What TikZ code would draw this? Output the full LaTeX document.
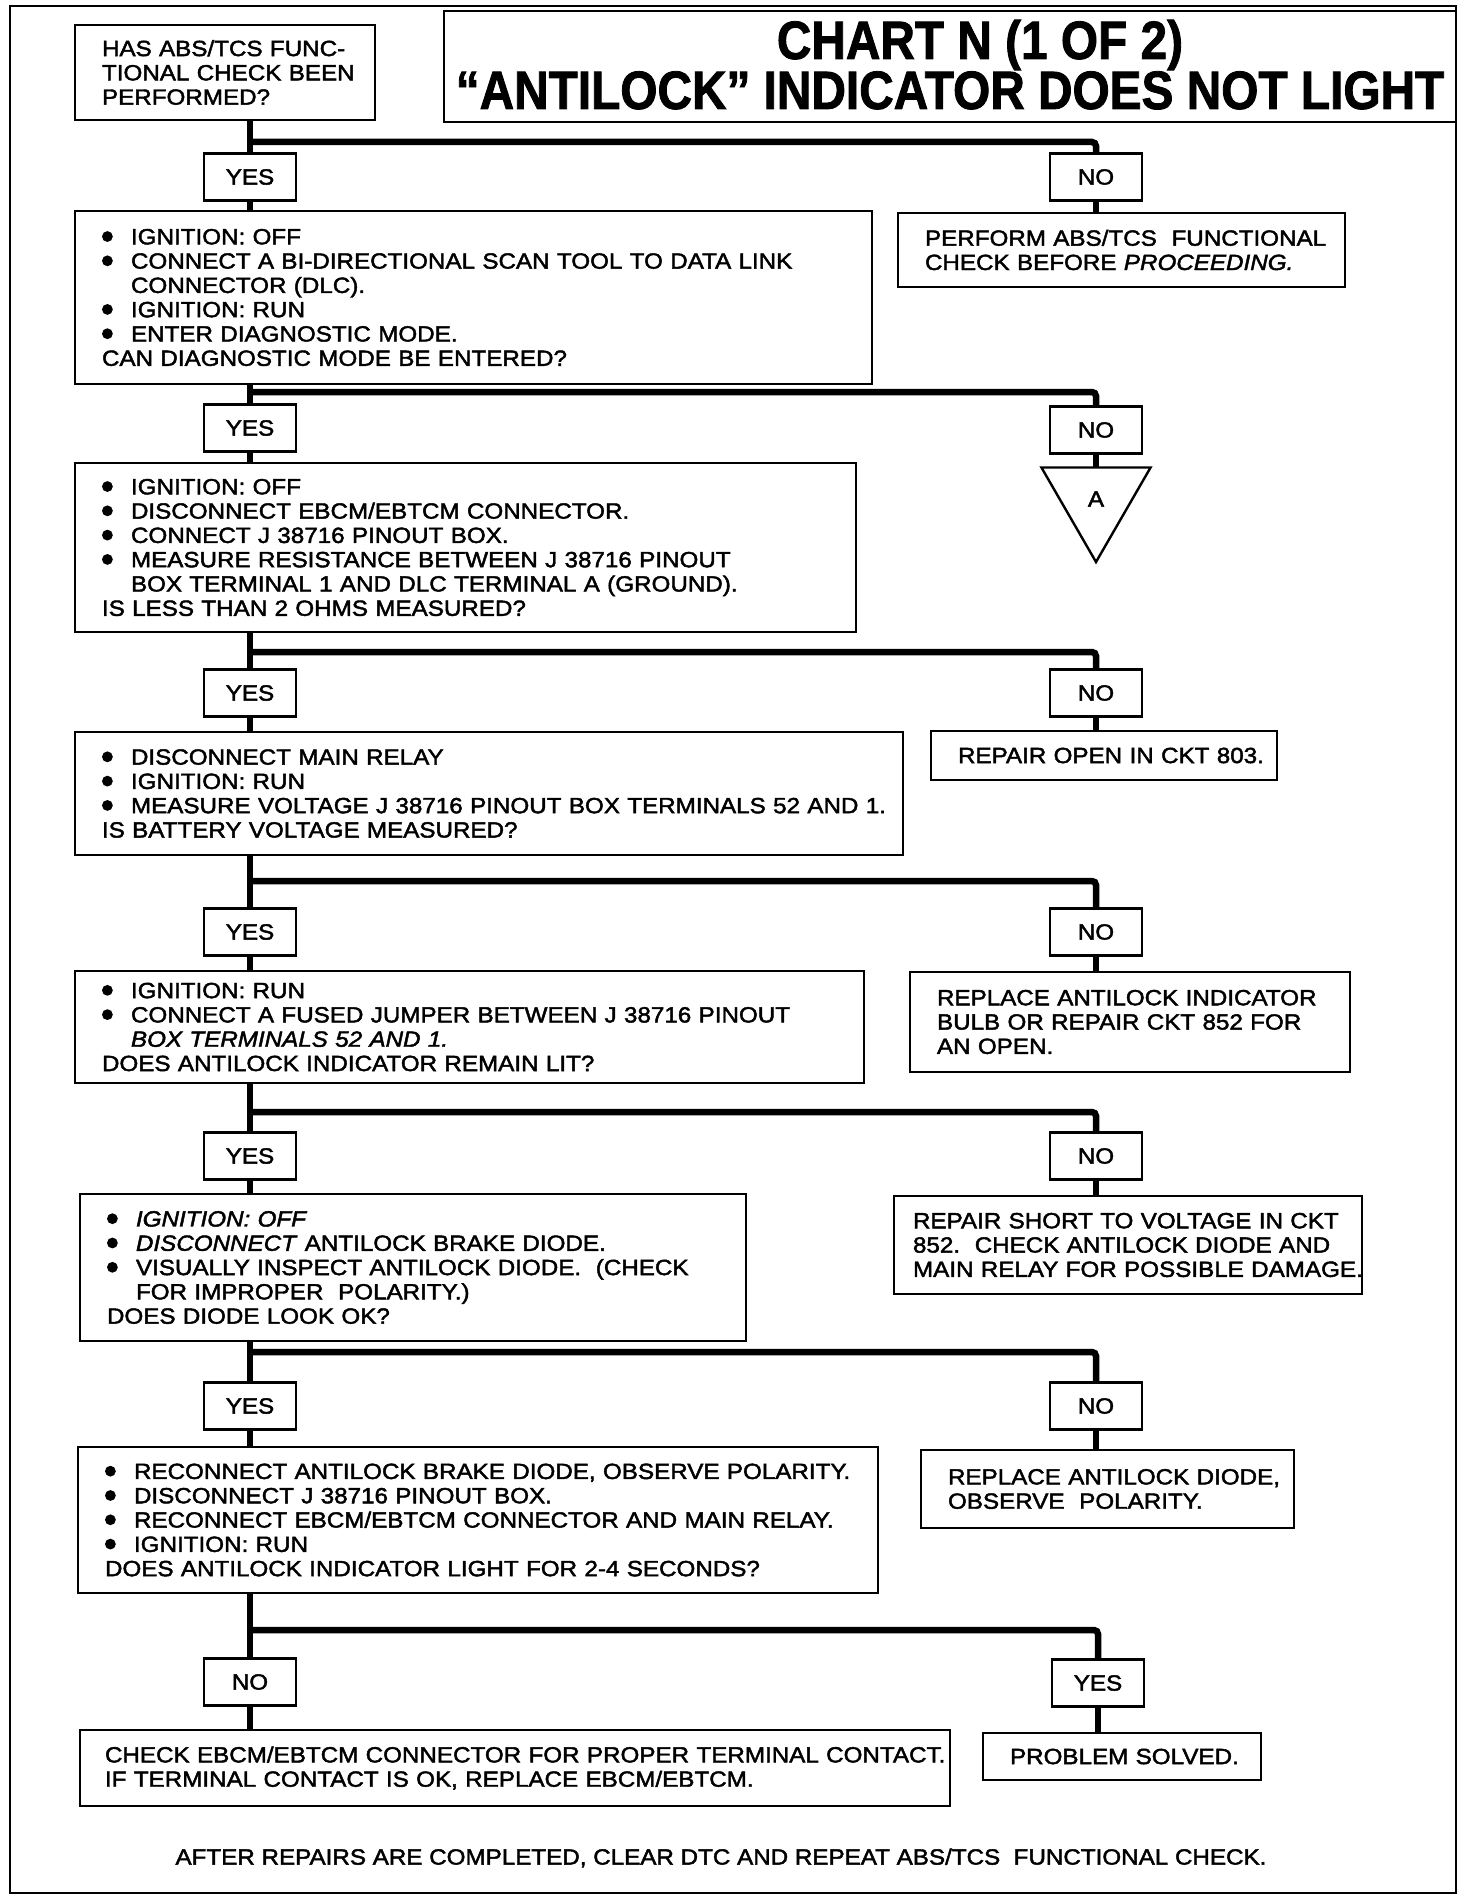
\documentclass[tikz,border=0pt]{standalone}
\usepackage{fontspec}
\usepackage{graphicx}
\usetikzlibrary{shapes.geometric}
\newfontfamily\chartfont{Liberation Sans}[FakeStretch=1.1, FakeBold=2]
\newfontfamily\titlefont{Liberation Sans}[FakeStretch=0.885, FakeBold=1.5]
\newcommand\chartsize{\fontsize{22}{24.3}\selectfont}
\newcommand\bdot{\raisebox{2.4pt}{\tikz\fill (0,0) circle (5.4pt);}}
\newcommand\bitem[1]{\mbox{\makebox[29pt][l]{\hspace{0pt}\bdot}#1}}
\newcommand\citem[1]{\mbox{\hspace{29pt}#1}}
\newcommand\pline[1]{\mbox{#1}}
\tikzset{
  box/.style={draw, line width=2.6pt, anchor=north west, outer sep=0pt,
    inner xsep=27pt, inner ysep=0pt, align=left, font=\chartfont\chartsize},
  yn/.style={draw, line width=2.6pt, minimum width=92pt, minimum height=47pt,
    outer sep=0pt, inner sep=0pt, font=\chartfont\chartsize},
  conn/.style={line width=6.5pt},
  branch/.style={line width=6.5pt, rounded corners=4pt},
  frame/.style={line width=2.6pt},
  titletext/.style={anchor=base, inner sep=0pt, font=\titlefont\bfseries\fontsize{54}{54}\selectfont},
}
\begin{document}
\begin{tikzpicture}[x=1pt,y=-1pt]
\useasboundingbox (0,0) rectangle (1472,1902);
\fill[white] (0,0) rectangle (1472,1902);
\draw[frame] (10,6) rectangle (1456,1893);

% title
\node[draw, line width=2.6pt, anchor=north west, outer sep=0pt, minimum width=1012pt, minimum height=111pt] (titlebox) at (444,11) {};
\node[titletext] (title1) at (980,59) {CHART N (1 OF 2)};
\node[titletext] (title2) at (950,109) {“ANTILOCK” INDICATOR DOES NOT LIGHT};

% boxes
\node[box, minimum width=300pt, text width=246pt, minimum height=95pt] (box1) at (75,25)
  {\pline{HAS ABS/TCS FUNC-}\\ \pline{TIONAL CHECK BEEN}\\ \pline{PERFORMED?}};

\node[yn] (yes1) at (250,177) {YES};
\node[yn] (no1) at (1096,177) {NO};
\coordinate (j1) at (250,142);

\node[box, minimum width=797pt, text width=743pt, minimum height=173pt] (box2) at (75,211)
  {\bitem{IGNITION: OFF}\\
   \bitem{CONNECT A BI-DIRECTIONAL SCAN TOOL TO DATA LINK}\\
   \citem{CONNECTOR (DLC).}\\
   \bitem{IGNITION: RUN}\\
   \bitem{ENTER DIAGNOSTIC MODE.}\\
   \pline{CAN DIAGNOSTIC MODE BE ENTERED?}};
\node[box, minimum width=447pt, text width=393pt, minimum height=74pt] (perform) at (898,213)
  {\pline{PERFORM ABS/TCS\ \ FUNCTIONAL}\\ \pline{CHECK BEFORE \textit{PROCEEDING.}}};

\node[yn] (yes2) at (250,428) {YES};
\node[yn] (no2) at (1096,430) {NO};
\coordinate (j2) at (250,392);
\node[draw, line width=2.4pt, regular polygon, regular polygon sides=3, shape border rotate=180,
  minimum size=126pt, inner sep=0pt, outer sep=0pt, font=\chartfont\chartsize] (tri) at (1096,499) {A};

\node[box, minimum width=781pt, text width=727pt, minimum height=169pt] (box3) at (75,463)
  {\bitem{IGNITION: OFF}\\
   \bitem{DISCONNECT EBCM/EBTCM CONNECTOR.}\\
   \bitem{CONNECT J 38716 PINOUT BOX.}\\
   \bitem{MEASURE RESISTANCE BETWEEN J 38716 PINOUT}\\
   \citem{BOX TERMINAL 1 AND DLC TERMINAL A (GROUND).}\\
   \pline{IS LESS THAN 2 OHMS MEASURED?}};

\node[yn] (yes3) at (250,693) {YES};
\node[yn] (no3) at (1096,693) {NO};
\coordinate (j3) at (250,652);

\node[box, minimum width=828pt, text width=774pt, minimum height=123pt] (box4) at (75,732)
  {\bitem{DISCONNECT MAIN RELAY}\\
   \bitem{IGNITION: RUN}\\
   \bitem{MEASURE VOLTAGE J 38716 PINOUT BOX TERMINALS 52 AND 1.}\\
   \pline{IS BATTERY VOLTAGE MEASURED?}};
\node[box, minimum width=346pt, text width=292pt, minimum height=49pt] (repairopen) at (931,731)
  {\pline{REPAIR OPEN IN CKT 803.}};

\node[yn] (yes4) at (250,932) {YES};
\node[yn] (no4) at (1096,932) {NO};
\coordinate (j4) at (250,881);

\node[box, minimum width=789pt, text width=735pt, minimum height=112pt] (box5) at (75,971)
  {\bitem{IGNITION: RUN}\\
   \bitem{CONNECT A FUSED JUMPER BETWEEN J 38716 PINOUT}\\
   \citem{\textit{BOX TERMINALS 52 AND 1.}}\\
   \pline{DOES ANTILOCK INDICATOR REMAIN LIT?}};
\node[box, minimum width=440pt, text width=386pt, minimum height=100pt] (replaceind) at (910,972)
  {\pline{REPLACE ANTILOCK INDICATOR}\\ \pline{BULB OR REPAIR CKT 852 FOR}\\ \pline{AN OPEN.}};

\node[yn] (yes5) at (250,1156) {YES};
\node[yn] (no5) at (1096,1156) {NO};
\coordinate (j5) at (250,1112);

\node[box, minimum width=666pt, text width=612pt, minimum height=147pt] (box6) at (80,1194)
  {\bitem{\textit{IGNITION: OFF}}\\
   \bitem{\textit{DISCONNECT} ANTILOCK BRAKE DIODE.}\\
   \bitem{VISUALLY INSPECT ANTILOCK DIODE.\ \ (CHECK}\\
   \citem{FOR IMPROPER\ \ POLARITY.)}\\
   \pline{DOES DIODE LOOK OK?}};
\node[box, inner xsep=19pt, minimum width=468pt, text width=430pt, minimum height=98pt] (repairshort) at (894,1196)
  {\pline{REPAIR SHORT TO VOLTAGE IN CKT}\\ \pline{852.\ \ CHECK ANTILOCK DIODE AND}\\ \pline{MAIN RELAY FOR POSSIBLE DAMAGE.}};

\node[yn] (yes6) at (250,1406) {YES};
\node[yn] (no6) at (1096,1406) {NO};
\coordinate (j6) at (250,1352);

\node[box, minimum width=800pt, text width=746pt, minimum height=146pt] (box7) at (78,1447)
  {\bitem{RECONNECT ANTILOCK BRAKE DIODE, OBSERVE POLARITY.}\\
   \bitem{DISCONNECT J 38716 PINOUT BOX.}\\
   \bitem{RECONNECT EBCM/EBTCM CONNECTOR AND MAIN RELAY.}\\
   \bitem{IGNITION: RUN}\\
   \pline{DOES ANTILOCK INDICATOR LIGHT FOR 2-4 SECONDS?}};
\node[box, minimum width=373pt, text width=319pt, minimum height=78pt] (replacediode) at (921,1450)
  {\pline{REPLACE ANTILOCK DIODE,}\\ \pline{OBSERVE\ \ POLARITY.}};

\node[yn] (no7) at (250,1682) {NO};
\node[yn] (yes7) at (1098,1683) {YES};
\coordinate (j7) at (250,1630);

\node[box, inner xsep=25pt, minimum width=870pt, text width=820pt, minimum height=76pt] (box8) at (80,1730)
  {\pline{CHECK EBCM/EBTCM CONNECTOR FOR PROPER TERMINAL CONTACT.}\\
   \pline{IF TERMINAL CONTACT IS OK, REPLACE EBCM/EBTCM.}};
\node[box, minimum width=278pt, text width=224pt, minimum height=47pt] (solved) at (983,1733)
  {\pline{PROBLEM SOLVED.}};

\node[inner sep=0pt, font=\chartfont\chartsize] (footer) at (721,1858)
  {AFTER REPAIRS ARE COMPLETED, CLEAR DTC AND REPEAT ABS/TCS\ \ FUNCTIONAL CHECK.};

% connectors
\draw[conn] (box1.south -| yes1.north) -- (yes1.north);
\draw[branch] (j1) -| (no1.north);
\draw[conn] (yes1.south) -- (yes1.south |- box2.north);
\draw[conn] (no1.south) -- (no1.south |- perform.north);

\draw[conn] (box2.south -| yes2.north) -- (yes2.north);
\draw[branch] (j2) -| (no2.north);
\draw[conn] (yes2.south) -- (yes2.south |- box3.north);
\draw[conn] (no2.south) -- (tri.north);

\draw[conn] (box3.south -| yes3.north) -- (yes3.north);
\draw[branch] (j3) -| (no3.north);
\draw[conn] (yes3.south) -- (yes3.south |- box4.north);
\draw[conn] (no3.south) -- (no3.south |- repairopen.north);

\draw[conn] (box4.south -| yes4.north) -- (yes4.north);
\draw[branch] (j4) -| (no4.north);
\draw[conn] (yes4.south) -- (yes4.south |- box5.north);
\draw[conn] (no4.south) -- (no4.south |- replaceind.north);

\draw[conn] (box5.south -| yes5.north) -- (yes5.north);
\draw[branch] (j5) -| (no5.north);
\draw[conn] (yes5.south) -- (yes5.south |- box6.north);
\draw[conn] (no5.south) -- (no5.south |- repairshort.north);

\draw[conn] (box6.south -| yes6.north) -- (yes6.north);
\draw[branch] (j6) -| (no6.north);
\draw[conn] (yes6.south) -- (yes6.south |- box7.north);
\draw[conn] (no6.south) -- (no6.south |- replacediode.north);

\draw[conn] (box7.south -| no7.north) -- (no7.north);
\draw[branch] (j7) -| (yes7.north);
\draw[conn] (no7.south) -- (no7.south |- box8.north);
\draw[conn] (yes7.south) -- (yes7.south |- solved.north);
\end{tikzpicture}
\end{document}
